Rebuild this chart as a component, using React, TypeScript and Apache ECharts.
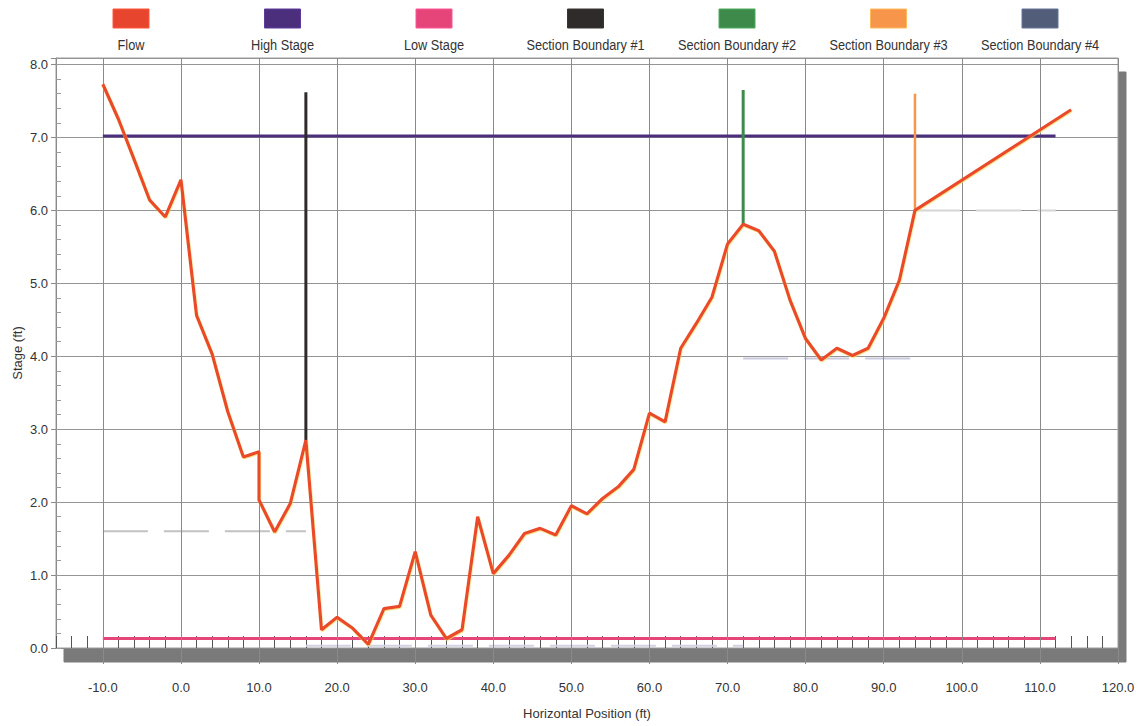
import React, { useEffect, useRef } from "react";
import * as echarts from "echarts";

const FONT = "'Liberation Sans', Arial, sans-serif";

// Cross-section survey: horizontal station (ft) and ground stage (ft)
const flowX = [
  -10, -8, -6, -4, -2, 0, 2, 4, 6, 8, 10, 10, 12, 14, 16, 18, 20, 22, 24, 26, 28, 30, 32, 34, 36, 38,
  40, 42, 44, 46, 48, 50, 52, 54, 56, 58, 60, 62, 64, 66, 68, 70, 72, 74, 76, 78, 80, 82, 84, 86, 88,
  90, 92, 94, 114,
];
const flowY = [
  7.73, 7.25, 6.7, 6.14, 5.91, 6.42, 4.56, 4.03, 3.24, 2.62, 2.69, 2.03, 1.59, 1.98, 2.85, 0.25, 0.42,
  0.27, 0.05, 0.54, 0.57, 1.32, 0.45, 0.13, 0.25, 1.8, 1.02, 1.27, 1.57, 1.64, 1.55, 1.95, 1.84, 2.05,
  2.21, 2.45, 3.22, 3.1, 4.11, 4.45, 4.81, 5.54, 5.81, 5.72, 5.44, 4.77, 4.24, 3.95, 4.11, 4.01, 4.11,
  4.52, 5.04, 6.0, 7.38,
];

// Stage lines across the section
const stageSpan = [-10, 112];
const highStage = 7.02;
const lowStage = 0.13;

// Section boundaries
const boundaryX = [16, 72, 94];
const boundaryBottom = [2.85, 5.81, 6.0];
const boundaryTop = [7.62, 7.65, 7.6];

// Water surface in each section
const levelStart = [-10, 16, 72, 94];
const levelEnd = [16, 72, 94, 112];
const levelY = [1.6, 0.03, 3.97, 6.0];
const levelColors = ["#c2c2c2", "#d2d2e2", "#cacadf", "#d6d6d6"];

// Axis ticks
const xTicks = [-10, 0, 10, 20, 30, 40, 50, 60, 70, 80, 90, 100, 110, 120];

const legendNames = [
  "Flow",
  "High Stage",
  "Low Stage",
  "Section Boundary #1",
  "Section Boundary #2",
  "Section Boundary #3",
  "Section Boundary #4",
];
const legendColors = ["#e8452f", "#4b2f7d", "#e6457a", "#2f2b2b", "#3d8a4a", "#f7954a", "#525d7a"];

export default function App() {
  const ref = useRef<HTMLDivElement>(null);

  useEffect(() => {
    document.body.style.margin = "0";
    const chart = echarts.init(ref.current!, null, { renderer: "svg" });

    const pair = (xs: number[], ys: number[]) => xs.map((x, i) => [x, ys[i]]);

    // Legend: swatch above a narrow caption
    const legendGraphic = legendNames.map((name, i) => {
      const cx = 131 + i * 151.5;
      return {
        type: "group",
        children: [
          {
            type: "rect",
            shape: { x: cx - 18, y: 9, width: 36, height: 19 },
            style: {
              fill: legendColors[i],
              stroke: echarts.color.lift(legendColors[i], -0.25),
              lineWidth: 1,
            },
          },
          {
            type: "text",
            x: cx,
            y: 45,
            scaleX: 0.85,
            style: {
              text: name,
              fill: "#333",
              font: `15px ${FONT}`,
              align: "center",
              verticalAlign: "middle",
            },
          },
        ],
      };
    });

    const levelSeries = levelY.map((y, i) => ({
      name: "Water Surface " + (i + 1),
      type: "line",
      z: 2,
      symbol: "none",
      silent: true,
      data: [
        [levelStart[i], y],
        [levelEnd[i], y],
      ],
      lineStyle: { color: levelColors[i], width: 2, type: [45, 16] },
    }));

    const boundarySeries = legendNames.slice(3).map((name, i) => ({
      name,
      type: "line",
      z: 6,
      symbol: "none",
      data:
        i < boundaryX.length
          ? [
              [boundaryX[i], boundaryBottom[i]],
              [boundaryX[i], boundaryTop[i]],
            ]
          : [],
      lineStyle: { color: legendColors[3 + i], width: i === 2 ? 2.5 : 3 },
    }));

    chart.setOption({
      animation: false,
      backgroundColor: "#ffffff",
      textStyle: { fontFamily: FONT },
      graphic: legendGraphic,
      grid: {
        left: 56,
        right: 19,
        top: 58,
        bottom: 78,
        outerBoundsMode: "none",
        containLabel: false,
        show: true,
        backgroundColor: "#ffffff",
        borderColor: "#9a9a9a",
        borderWidth: 1,
        shadowColor: "#7a7a7a",
        shadowBlur: 0,
        shadowOffsetX: 8,
        shadowOffsetY: 14,
      },
      xAxis: [
        {
          type: "value",
          min: -16,
          max: 120,
          interval: 2,
          name: "Horizontal Position (ft)",
          nameLocation: "middle",
          nameGap: 59,
          nameMoveOverlap: false,
          nameTextStyle: { fontFamily: FONT, fontSize: 13, color: "#333" },
          axisLine: { show: true, onZero: false, lineStyle: { color: "#8a8a8a" } },
          axisTick: { show: true, inside: true, length: 12, lineStyle: { color: "#555" } },
          axisLabel: {
            margin: 33,
            fontFamily: FONT,
            fontSize: 13,
            color: "#333",
            formatter: (v: number) => (v >= -10 && v % 10 === 0 ? v.toFixed(1) : ""),
          },
          splitLine: { show: false },
        },
        {
          type: "value",
          position: "bottom",
          min: -16,
          max: 120,
          axisLine: { show: false, onZero: false },
          axisTick: {
            show: true,
            length: 16,
            customValues: xTicks,
            lineStyle: { color: "#8a8a8a" },
          },
          axisLabel: { show: false },
          splitLine: { show: false },
        },
      ],
      yAxis: [
        {
          type: "value",
          min: 0,
          max: 8.09,
          interval: 1,
          name: "Stage (ft)",
          nameLocation: "middle",
          nameGap: 32,
          nameMoveOverlap: false,
          nameTextStyle: { fontFamily: FONT, fontSize: 13, color: "#333" },
          axisLine: { show: true, onZero: false, lineStyle: { color: "#8a8a8a" } },
          axisTick: { show: true, length: 5, lineStyle: { color: "#8a8a8a" } },
          axisLabel: {
            margin: 8,
            fontFamily: FONT,
            fontSize: 13,
            color: "#333",
            formatter: (v: number) => (v <= 8.001 ? v.toFixed(1) : ""),
          },
          splitLine: { show: true, lineStyle: { color: "#959595", width: 1 } },
        },
        {
          type: "value",
          position: "left",
          min: 0,
          max: 8.09,
          interval: 0.2,
          axisLine: { show: false, onZero: false },
          axisTick: { show: true, inside: true, length: 5, lineStyle: { color: "#9a9a9a" } },
          axisLabel: { show: false },
          splitLine: { show: false },
        },
      ],
      series: [
        {
          name: "Grid",
          type: "line",
          z: 1,
          silent: true,
          data: [],
          markLine: {
            silent: true,
            symbol: "none",
            label: { show: false },
            lineStyle: { color: "#8a8a8a", width: 1, type: "solid" },
            data: xTicks.map((v) => ({ xAxis: v })),
          },
        },
        ...levelSeries,
        {
          name: "Low Stage",
          type: "line",
          z: 4,
          symbol: "none",
          data: [
            [stageSpan[0], lowStage],
            [stageSpan[1], lowStage],
          ],
          lineStyle: { color: legendColors[2], width: 3 },
        },
        {
          name: "High Stage",
          type: "line",
          z: 5,
          symbol: "none",
          data: [
            [stageSpan[0], highStage],
            [stageSpan[1], highStage],
          ],
          lineStyle: { color: legendColors[1], width: 3 },
        },
        ...boundarySeries,
        {
          name: "Flow",
          type: "line",
          z: 10,
          symbol: "none",
          data: pair(flowX, flowY),
          lineStyle: {
            color: "#ea4a2c",
            width: 3.2,
            shadowColor: "rgba(245, 215, 90, 0.7)",
            shadowBlur: 0,
            shadowOffsetX: 0.5,
            shadowOffsetY: 1,
          },
        },
      ],
    });

    return () => chart.dispose();
  }, []);

  return <div ref={ref} style={{ width: 1137, height: 726 }} />;
}
